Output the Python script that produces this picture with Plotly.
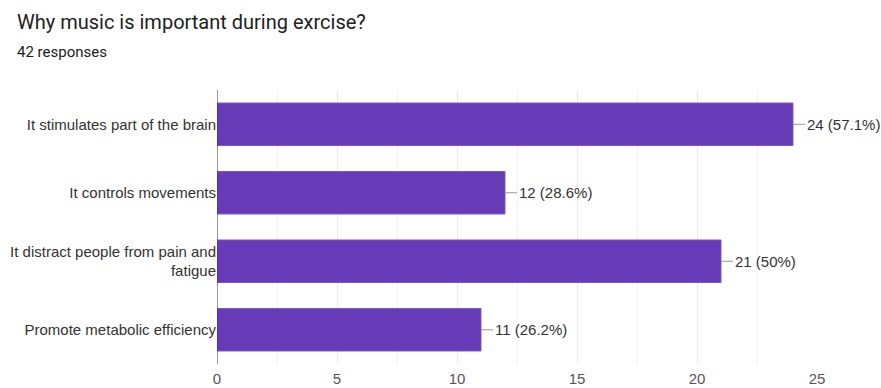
import plotly.graph_objects as go

categories = ["It stimulates part of the brain", "It controls movements",
              "It distract people from pain and<br>fatigue", "Promote metabolic efficiency"]
values = [24, 12, 21, 11]
labels = ["24 (57.1%)", "12 (28.6%)", "21 (50%)", "11 (26.2%)"]
tick_vals = [0, 5, 10, 15, 20, 25]

W, H = 881, 388
L, R, T, B = 217, 64, 90, 24
PW, PH = W - L - R, H - T - B

fig = go.Figure()
fig.add_trace(go.Bar(
    y=categories, x=values, orientation="h",
    marker=dict(color="#673ab7", line=dict(color="#7e57c2", width=1)),
    width=0.62, hoverinfo="skip",
))
for c, v, t in zip(categories, values, labels):
    fig.add_annotation(x=v, y=c, text=t, showarrow=True, arrowhead=0, arrowwidth=1,
                       arrowcolor="#999999", ax=12, ay=0, xanchor="left",
                       font=dict(family="Liberation Sans, Arial", size=15, color="#333333"))

fig.add_annotation(xref="paper", yref="paper", x=(15 - L) / PW, y=1 + (T - 22) / PH,
                   xanchor="left", yanchor="middle", showarrow=False,
                   text="Why music is important during exrcise?",
                   font=dict(family="Roboto", size=20, color="#212121"))
fig.add_annotation(xref="paper", yref="paper", x=(15 - L) / PW, y=1 + (T - 52) / PH,
                   xanchor="left", yanchor="middle", showarrow=False,
                   text="42 responses",
                   font=dict(family="Roboto", size=15, color="#212121"))

fig.update_layout(
    width=W, height=H,
    margin=dict(l=L, r=R, t=T, b=B, pad=0),
    plot_bgcolor="white", paper_bgcolor="white",
    showlegend=False,
    font=dict(family="Liberation Sans, Arial", size=15, color="#333333"),
    xaxis=dict(range=[0, 25], tickvals=tick_vals, showgrid=True, gridcolor="#ebebeb",
               zeroline=False, showline=False, ticks="", ticklabelstandoff=4,
               tickfont=dict(size=15, color="#555555"),
               minor=dict(dtick=2.5, showgrid=True, gridcolor="#f3f3f3"), fixedrange=True,
               automargin=False),
    yaxis=dict(autorange="reversed", showgrid=False, ticks="", showline=False,
               tickfont=dict(size=15, color="#333333"), fixedrange=True, automargin=False),
)
fig.add_shape(type="line", xref="x", yref="paper", x0=0, x1=0, y0=0, y1=1,
              line=dict(color="#333333", width=1))
fig.write_html("out.html", config={"displayModeBar": False},
               post_script="document.body.style.margin='0';document.body.style.overflow='hidden';")
